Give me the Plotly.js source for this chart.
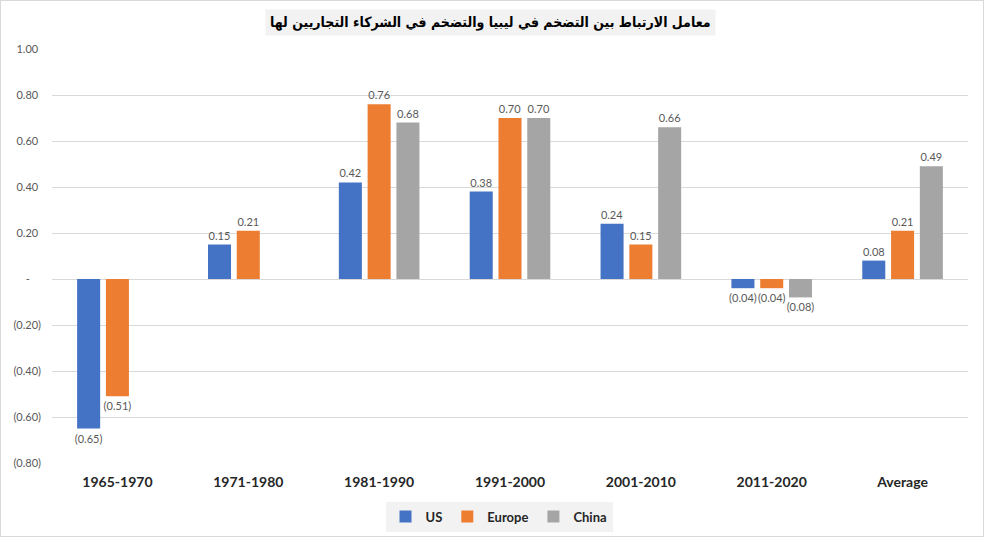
<!DOCTYPE html>
<html>
<head>
<meta charset="utf-8">
<script src="https://cdn.plot.ly/plotly-3.0.1.min.js"></script>
<style>
html,body{margin:0;padding:0;background:#fff;}
#wrap{position:relative;width:1007px;height:553px;}
#chart{position:absolute;left:0;top:0;width:1007px;height:553px;}
#frame{position:absolute;left:0;top:0;width:984px;height:537px;box-sizing:border-box;border:1px solid #d9d9d9;pointer-events:none;}
</style>
</head>
<body>
<div id="wrap"><div id="chart"></div><div id="frame"></div></div>
<script>
const categories = ["1965-1970","1971-1980","1981-1990","1991-2000","2001-2010","2011-2020","Average"];
const usValues = [-0.65, 0.15, 0.42, 0.38, 0.24, -0.04, 0.08];
const europeValues = [-0.51, 0.21, 0.76, 0.70, 0.15, -0.04, 0.21];
const chinaValues = [null, null, 0.68, 0.70, 0.66, -0.08, 0.49];
const tickValues = [1.0, 0.8, 0.6, 0.4, 0.2, 0, -0.2, -0.4, -0.6, -0.8];
const tickLabels = ["1.00\u00a0","0.80\u00a0","0.60\u00a0","0.40\u00a0","0.20\u00a0","-\u00a0\u00a0\u00a0\u00a0","(0.20)","(0.40)","(0.60)","(0.80)"];
const titleText = "معامل الارتباط بين التضخم في ليبيا والتضخم في الشركاء التجاريين لها";

function fmt(v){
  if(v === null) return "";
  const s = Math.abs(v).toFixed(2);
  return v < 0 ? "(" + s + ")" : s;
}

function series(name, values, color){
  return {
    type: "bar",
    name: name,
    x: categories,
    y: values,
    text: values.map(fmt),
    textposition: "outside",
    cliponaxis: false,
    constraintext: "none",
    textfont: {family: "Lato, 'Open Sans', sans-serif", size: 11, color: "#595959"},
    marker: {color: color},
    hoverinfo: "x+y"
  };
}

const data = [
  series("US", usValues, "#4472C4"),
  series("Europe", europeValues, "#ED7D31"),
  series("China", chinaValues, "#A5A5A5")
];

const layout = {
  width: 1007,
  height: 553,
  paper_bgcolor: "rgba(0,0,0,0)",
  plot_bgcolor: "#ffffff",
  margin: {l: 52, r: 39, t: 49, b: 90},
  barmode: "group",
  bargap: 0.34,
  bargroupgap: 0.2,
  showlegend: true,
  legend: {
    orientation: "h",
    x: 0.488, xanchor: "center",
    y: -0.093, yanchor: "top",
    bgcolor: "#f2f2f2",
    font: {family: "Lato, 'Open Sans', sans-serif", size: 13, color: "#262626", weight: "bold"},
    itemwidth: 30,
    tracegroupgap: 0
  },
  xaxis: {
    type: "category",
    showgrid: false,
    showline: false,
    zeroline: false,
    ticks: "",
    tickfont: {family: "Lato, 'Open Sans', sans-serif", size: 14, color: "#262626", weight: "bold"},
    ticklabelstandoff: 9
  },
  yaxis: {
    range: [-0.8, 1.0],
    tickvals: tickValues,
    ticktext: tickLabels,
    showgrid: true,
    gridcolor: "#d9d9d9",
    gridwidth: 1,
    zeroline: true,
    zerolinecolor: "#d9d9d9",
    zerolinewidth: 1,
    showline: false,
    ticks: "",
    tickfont: {family: "Lato, 'Open Sans', sans-serif", size: 11, color: "#595959"},
    ticklabelstandoff: 10
  },
  annotations: [{
    text: "<b>" + titleText + "</b>",
    xref: "paper", yref: "paper",
    x: 0.479, xanchor: "center",
    y: 1.0, yanchor: "bottom",
    yshift: 13,
    showarrow: false,
    bgcolor: "#f2f2f2",
    borderpad: 4,
    font: {family: "'DejaVu Sans Condensed', 'DejaVu Sans', sans-serif", size: 14, color: "#000000"}
  }]
};

Plotly.newPlot("chart", data, layout, {displayModeBar: false, staticPlot: true});
</script>
</body>
</html>
